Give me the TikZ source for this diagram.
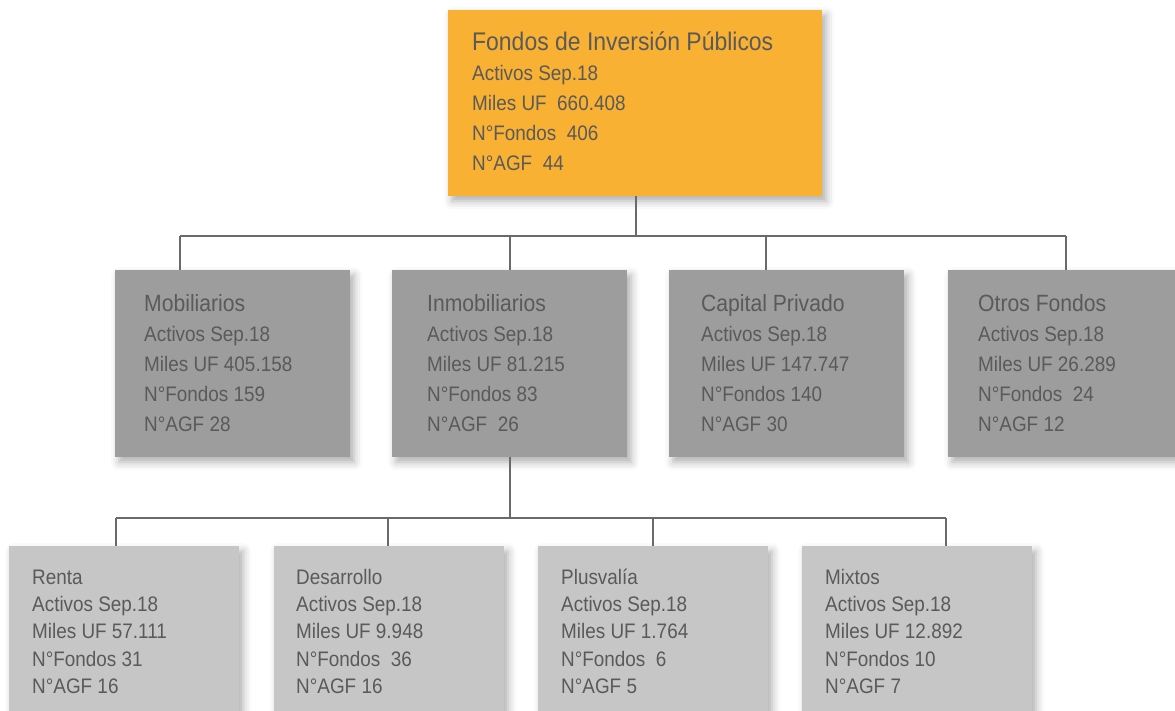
\documentclass[tikz,border=0pt]{standalone}
\usepackage{fontspec}
\setmainfont{Liberation Sans}[FakeStretch=0.9]
\usetikzlibrary{shadows.blur}
\definecolor{orangebox}{HTML}{F8B133}
\definecolor{midgray}{HTML}{9D9D9D}
\definecolor{lightgraybox}{HTML}{C6C6C6}
\definecolor{txtgray}{HTML}{5A5A5A}
\definecolor{conngray}{HTML}{6A6A6A}
\newcommand\infotext[7]{%
  \node[#4, anchor=base west] (#1-t) at (#2,#3) {#6};
  \foreach \t [count=\i] in {#7}
    \node[linetxt, anchor=base west] (#1-\i) at (#2,#3+\i*#5) {\t};
}
\begin{document}
\begin{tikzpicture}[x=1pt,y=-1pt,
  box/.style={rectangle, draw=none, inner sep=0pt, anchor=north west,
    blur shadow={shadow xshift=4pt, shadow yshift=-5pt, shadow blur radius=8pt, shadow opacity=32}},
  topbox/.style={box, fill=orangebox, minimum width=374pt, minimum height=186pt},
  midbox/.style={box, fill=midgray, minimum width=235pt, minimum height=187pt},
  lowbox/.style={box, fill=lightgraybox, minimum width=230pt, minimum height=180pt},
  linetxt/.style={inner sep=0pt, text=txtgray, font=\fontsize{21}{21}\selectfont},
  bigtitle/.style={inner sep=0pt, text=txtgray, font=\fontsize{25.5}{25.5}\selectfont},
  midtitle/.style={inner sep=0pt, text=txtgray, font=\fontsize{23.5}{23.5}\selectfont},
  lowtitle/.style={linetxt},
  conn/.style={draw=conngray, line width=2.3pt}
]
\useasboundingbox (0,0) rectangle (1175,710);

% boxes
\node[topbox] (top) at (448,10) {};
\node[midbox] (mob) at (115,270) {};
\node[midbox] (inm) at (392,270) {};
\node[midbox] (cap) at (669,270) {};
\node[midbox, minimum width=240pt] (otr) at (948,270) {};
\node[lowbox] (ren) at (9,546) {};
\node[lowbox] (des) at (274,546) {};
\node[lowbox] (plu) at (538,546) {};
\node[lowbox] (mix) at (802,546) {};

% connectors level 1
\coordinate (busA) at (636,236);
\coordinate (busAL) at (180,236);
\coordinate (busAM) at (510,236);
\coordinate (busAR1) at (766,236);
\coordinate (busAR) at (1066,236);
\draw[conn] (top.south -| busA) -- (busA);
\draw[conn] (busAL) -- (busAR);
\draw[conn] (busAL) -- (busAL |- mob.north);
\draw[conn] (busAM) -- (busAM |- inm.north);
\draw[conn] (busAR1) -- (busAR1 |- cap.north);
\draw[conn] (busAR) -- (busAR |- otr.north);

% connectors level 2
\coordinate (busB) at (510,518);
\coordinate (busBL) at (116,518);
\coordinate (busB2) at (388,518);
\coordinate (busB3) at (653,518);
\coordinate (busBR) at (946,518);
\draw[conn] (inm.south -| busB) -- (busB);
\draw[conn] (busBL) -- (busBR);
\draw[conn] (busBL) -- (busBL |- ren.north);
\draw[conn] (busB2) -- (busB2 |- des.north);
\draw[conn] (busB3) -- (busB3 |- plu.north);
\draw[conn] (busBR) -- (busBR |- mix.north);

% texts
\infotext{topt}{472}{50}{bigtitle}{30}{Fondos de Inversión Públicos}%
  {Activos Sep.18, Miles UF~ 660.408, N°Fondos~ 406, N°AGF~ 44}
\infotext{mobt}{144}{311}{midtitle}{30}{Mobiliarios}%
  {Activos Sep.18, Miles UF 405.158, N°Fondos 159, N°AGF 28}
\infotext{inmt}{427}{311}{midtitle}{30}{Inmobiliarios}%
  {Activos Sep.18, Miles UF 81.215, N°Fondos 83, N°AGF~ 26}
\infotext{capt}{701}{311}{midtitle}{30}{Capital Privado}%
  {Activos Sep.18, Miles UF 147.747, N°Fondos 140, N°AGF 30}
\infotext{otrt}{978}{311}{midtitle}{30}{Otros Fondos}%
  {Activos Sep.18, Miles UF 26.289, N°Fondos~ 24, N°AGF 12}
\infotext{rent}{32}{584.5}{lowtitle}{27.2}{Renta}%
  {Activos Sep.18, Miles UF 57.111, N°Fondos 31, N°AGF 16}
\infotext{dest}{296}{584.5}{lowtitle}{27.2}{Desarrollo}%
  {Activos Sep.18, Miles UF 9.948, N°Fondos~ 36, N°AGF 16}
\infotext{plut}{561}{584.5}{lowtitle}{27.2}{Plusvalía}%
  {Activos Sep.18, Miles UF 1.764, N°Fondos~ 6, N°AGF 5}
\infotext{mixt}{825}{584.5}{lowtitle}{27.2}{Mixtos}%
  {Activos Sep.18, Miles UF 12.892, N°Fondos 10, N°AGF 7}
\end{tikzpicture}
\end{document}
